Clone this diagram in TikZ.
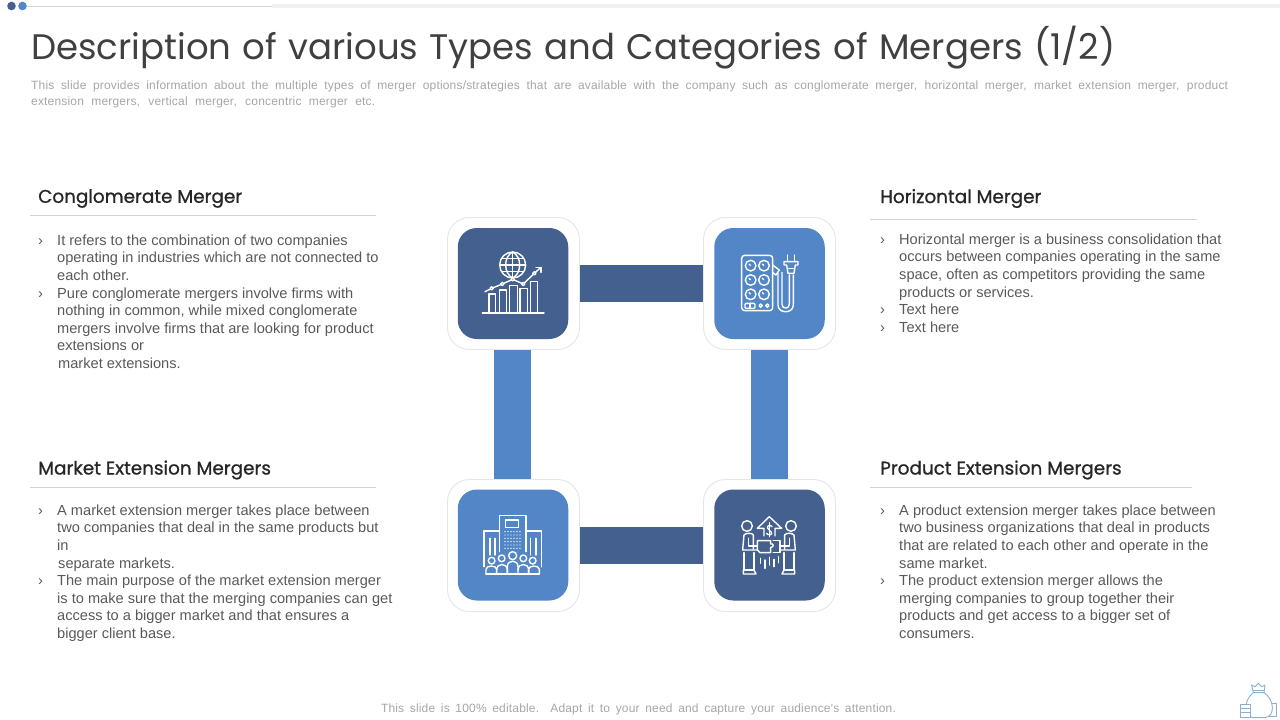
\documentclass[tikz,border=0pt]{standalone}
\usepackage{fontspec}
\setmainfont{Liberation Sans}
\newfontfamily\ttlfont{Poppins}
\newfontfamily\hdfont[FakeBold=0.9]{Poppins}
\newfontfamily\dscfont[LetterSpace=1.5]{Liberation Sans}
\definecolor{navy}{HTML}{44608F}
\definecolor{sky}{HTML}{5286C6}
\definecolor{edge}{HTML}{E6E6E6}
\definecolor{rulec}{HTML}{D4D4D4}
\definecolor{ink}{HTML}{595959}
\definecolor{pale}{HTML}{A6A6A6}
\definecolor{bagc}{HTML}{8FB0CC}
\newcommand{\bl}{\llap{\makebox[19pt][l]{›}}}
\tikzset{
 frame/.style={draw=edge,fill=white,line width=0.9pt,rounded corners=22pt,minimum width=132pt,minimum height=132pt,inner sep=0pt},
 tile/.style={rounded corners=19pt,minimum width=110.5pt,minimum height=111pt,inner sep=0pt},
 bar/.style={line width=36.5pt},
 head/.style={anchor=west,inner sep=0pt,font=\hdfont\fontsize{18.4}{22}\selectfont,text=black!85},
 body/.style={anchor=north west,inner sep=0pt,align=left,text=ink,font=\fontsize{14.6}{17.6}\selectfont},
 hr/.style={draw=rulec,line width=0.8pt},
 icon/.style={draw=white,line width=1.4pt,line cap=round,line join=round},
 bagline/.style={draw=bagc,line width=0.9pt,line join=round},
}
\begin{document}
\begin{tikzpicture}[x=1pt,y=-1pt]
\useasboundingbox (0,0) rectangle (1280,720);
% top strip
\fill[fill=navy] (11.5,6) circle (4.3);
\fill[fill=sky] (22.5,6) circle (4.3);
\coordinate (ls) at (27,6); \coordinate (lm) at (272,6); \coordinate (le) at (1280,6);
\draw[rulec,line width=0.7pt] (ls) -- (lm);
\draw[black!6,line width=3.5pt] (lm) -- (le);
% title
\node[anchor=west,inner sep=0pt,text=black!75,font=\ttlfont\fontsize{35.5}{40}\selectfont] (title) at (31,48) {\makebox[1084pt][s]{Description of various Types and Categories of Mergers (1/2)}};
\node[anchor=north west,inner sep=0pt,align=left,text=pale,font=\dscfont\fontsize{12}{16}\selectfont] (desc) at (31,81) {\makebox[1197pt][s]{This slide provides information about the multiple types of merger options/strategies that are available with the company such as conglomerate merger, horizontal merger, market extension merger, product}\\\makebox[344pt][s]{extension mergers, vertical merger, concentric merger etc.}};
% frames
\node[frame] (f1) at (513.5,283.5) {};
\node[frame] (f2) at (769.5,283.5) {};
\node[frame] (f3) at (513.5,545.5) {};
\node[frame] (f4) at (769.5,545.5) {};
\node[tile,fill=navy] (t1) at (513,283.5) {};
\node[tile,fill=sky] (t2) at (769.5,283.5) {};
\node[tile,fill=sky] (t3) at (513,545) {};
\node[tile,fill=navy] (t4) at (769.5,545) {};
% connectors
\draw[bar,navy] (f1) -- (f2);
\draw[bar,navy] (f3) -- (f4);
\draw[bar,sky] ([xshift=-1pt]f1.south) -- ([xshift=-1pt]f3.north);
\draw[bar,sky] (f2) -- (f4);
% icon 1
\begin{scope}[shift={(440,210)},x=0.3333pt,y=-0.3333pt,icon]
\draw (218,165) circle (39);
\draw (218,126) .. controls (190,140) and (190,190) .. (218,204);
\draw (218,126) .. controls (246,140) and (246,190) .. (218,204);
\draw (218,126) -- (218,204) (180,165) -- (256,165) (186,145) -- (250,145) (186,185) -- (250,185);
\draw (127,309) -- (312,309);
\draw (147,309) -- (147,252) -- (167,252) -- (167,309);
\draw (178,309) -- (178,240) -- (200,240) -- (200,309);
\draw (208,309) -- (208,227) -- (232,227) -- (232,309);
\draw (240,309) -- (240,236) -- (262,236) -- (262,309);
\draw (272,309) -- (272,214) -- (293,214) -- (293,309);
\draw (135,245) -- (155,235) -- (187,222) -- (218,208) -- (250,222) -- (283,190) -- (303,172);
\draw (288,172) -- (303,172) -- (303,187);
\foreach \p in {(155,235),(187,222),(218,208),(250,222),(283,190)} \draw[fill=navy] \p circle (5);
\end{scope}
% icon 2
\begin{scope}[shift={(640,210)},x=0.3333pt,y=-0.3333pt,icon]
\draw[rounded corners=3pt] (305,136) rectangle (398,302);
\foreach \c in {(332,167),(372,167),(332,210),(372,210),(332,253),(372,253)} {\draw \c circle (16); \draw \c ++(-5,-5) -- ++(4,4);}
\draw[rounded corners=1pt] (315,280) rectangle (345,295);
\draw (330,280) -- (330,295);
\draw (362,287) circle (5) (382,287) circle (5);
\draw (398,165) -- (418,180) -- (408,195) -- (398,188);
\draw (414,190) -- (414,285) .. controls (414,312) and (460,312) .. (460,285) -- (460,195);
\draw (426,187) -- (426,283) .. controls (426,298) and (448,298) .. (448,283) -- (448,195);
\draw (432,155) -- (474,155) -- (474,165) -- (466,165) -- (462,190) -- (444,190) -- (440,165) -- (432,165) -- cycle;
\draw (443,135) -- (443,155) (463,135) -- (463,155) (446,176) -- (460,176);
\end{scope}
% icon 3
\begin{scope}[shift={(440,470)},x=0.3333pt,y=-0.3333pt,icon]
\draw (178,245) -- (178,136) -- (258,136) -- (258,245);
\draw (197,150) rectangle (236,172);
\foreach \x in {195,204,213,222,231,240} \foreach \y in {185,195,205,215,225,235} \fill[white] (\x,\y) circle (2.2);
\draw (178,183) -- (132,183) -- (132,290);
\draw (258,183) -- (304,183) -- (304,290);
\draw (150,205) -- (150,255) (165,205) -- (165,255) (272,205) -- (272,255) (288,205) -- (288,255);
\draw (138,312) -- (298,312);
\draw (155,272) circle (10) (185,265) circle (10) (218,257) circle (12) (250,265) circle (10) (278,272) circle (10);
\draw (138,312) -- (138,298) .. controls (138,285) and (170,285) .. (170,298) -- (170,312);
\draw (170,300) .. controls (170,278) and (202,278) .. (202,300) -- (202,312);
\draw (202,312) -- (202,290) .. controls (202,268) and (234,268) .. (234,290) -- (234,312);
\draw (234,300) .. controls (234,278) and (266,278) .. (266,300) -- (266,312);
\draw (266,312) -- (266,298) .. controls (266,285) and (298,285) .. (298,298) -- (298,312);
\end{scope}
% icon 4
\begin{scope}[shift={(640,470)},x=0.3333pt,y=-0.3333pt,icon]
\draw (321,168) circle (16) (453,168) circle (16);
\draw (340,236) -- (340,195) .. controls (336,188) and (318,188) .. (312,195) -- (308,240) -- (352,240);
\draw (325,205) -- (325,228) -- (352,228);
\draw (312,248) -- (312,300) -- (342,300) -- (342,248);
\draw (310,312) -- (310,300) (310,312) -- (348,312) -- (342,300);
\draw (434,236) -- (434,195) .. controls (438,188) and (456,188) .. (462,195) -- (466,240) -- (422,240);
\draw (449,205) -- (449,228) -- (422,228);
\draw (462,248) -- (462,300) -- (432,300) -- (432,248);
\draw (464,312) -- (464,300) (464,312) -- (426,312) -- (432,300);
\draw (372,198) -- (372,175) -- (352,175) -- (388,140) -- (425,175) -- (405,175) -- (405,198);
\draw (396,170) .. controls (390,162) and (378,168) .. (384,176) .. controls (390,182) and (400,190) .. (392,194) .. controls (386,196) and (380,192) .. (380,190);
\draw (388,158) -- (388,200);
\draw (352,212) -- (392,212) -- (392,222) .. controls (402,218) and (402,234) .. (392,232) -- (392,248) -- (360,248) -- (352,240) -- cycle;
\draw (400,212) -- (420,212) -- (420,248) -- (400,248);
\draw (362,265) -- (362,280) (375,270) -- (375,295) (388,262) -- (388,285) (402,268) -- (402,290) (416,260) -- (416,278);
\end{scope}
% headings
\node[head] (h1) at (38,198.5) {Conglomerate Merger};
\node[head] (h2) at (880,198.5) {Horizontal Merger};
\node[head] (h3) at (38,470) {Market Extension Mergers};
\node[head] (h4) at (880,470) {Product Extension Mergers};
\coordinate (a1) at (30,215); \coordinate (b1) at (376,215);
\coordinate (a2) at (870,219); \coordinate (b2) at (1197,219);
\coordinate (a3) at (30,487); \coordinate (b3) at (376,487);
\coordinate (a4) at (870,487); \coordinate (b4) at (1192,487);
\draw[hr] (a1) -- (b1); \draw[hr] (a2) -- (b2); \draw[hr] (a3) -- (b3); \draw[hr] (a4) -- (b4);
% bodies
\node[body] (b-1) at (57,234.5) {\bl It refers to the combination of two companies\\operating in industries which are not connected to\\each other.\\\bl Pure conglomerate mergers involve firms with\\nothing in common, while mixed conglomerate\\mergers involve firms that are looking for product\\extensions or\\\hspace{1pt}market extensions.};
\node[body] (b-2) at (899,233.5) {\bl Horizontal merger is a business consolidation that\\occurs between companies operating in the same\\space, often as competitors providing the same\\products or services.\\\bl Text here\\\bl Text here};
\node[body] (b-3) at (57,504.5) {\bl A market extension merger takes place between\\two companies that deal in the same products but\\in\\\hspace{1pt}separate markets.\\\bl The main purpose of the market extension merger\\is to make sure that the merging companies can get\\access to a bigger market and that ensures a\\bigger client base.};
\node[body] (b-4) at (899,504.5) {\bl A product extension merger takes place between\\two business organizations that deal in products\\that are related to each other and operate in the\\same market.\\\bl The product extension merger allows the\\merging companies to group together their\\products and get access to a bigger set of\\consumers.};
% footer
\node[anchor=center,inner sep=0pt,text=pale,font=\dscfont\fontsize{12}{14}\selectfont] (foot) at (638.5,709) {\makebox[515pt][s]{This slide is 100\% editable. Adapt it to your need and capture your audience's attention.}};
% money bag
\begin{scope}[shift={(1220,670)},x=0.3333pt,y=-0.3333pt,bagline]
\draw (135,100) -- (170,100) -- (170,140) -- (135,140);
\draw[fill=white] (100,68) .. controls (70,90) and (70,140) .. (100,143) -- (135,143) .. controls (165,140) and (165,90) .. (132,68);
\draw[fill=white] (100,68) -- (132,68) -- (135,45) -- (125,50) -- (115,40) -- (105,50) -- (95,45) -- cycle;
\draw (100,60) -- (132,60);
\draw[fill=white] (62,103) rectangle (92,115) (62,115) rectangle (92,128) (62,128) rectangle (92,141);
\end{scope}
\end{tikzpicture}
\end{document}
